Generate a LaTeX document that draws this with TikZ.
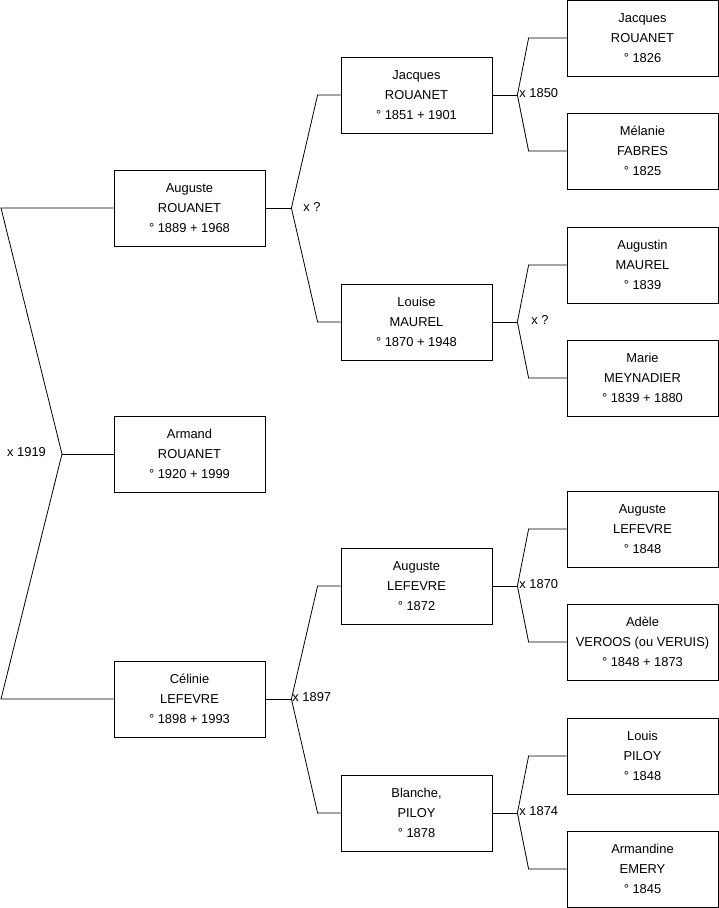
\documentclass[tikz,border=0pt]{standalone}
\usepackage{fontspec}
\setmainfont{Liberation Sans}
\usetikzlibrary{positioning, calc}
\tikzset{
  person/.style={draw, rectangle, minimum width=151pt, minimum height=76pt, inner sep=0pt,
    align=center, font=\fontsize{12.9}{20}\selectfont},
  union/.style={anchor=west, inner sep=0pt, font=\fontsize{12.9}{14}\selectfont}
}
\begin{document}
\begin{tikzpicture}[x=1pt, y=-1pt, line width=0.8pt]
    \useasboundingbox (0,0) rectangle (719,908);

    % child and parents
    \node (armand) [person] at (189.5,454) {Armand\\ROUANET\\° 1920 + 1999};
    \node (auguste) [person] at (189.5,208) {Auguste\\ROUANET\\° 1889 + 1968};
    \node (celinie) [person] at (189.5,699) {Célinie\\LEFEVRE\\° 1898 + 1993};

    % grandparents
    \node (jacques) [person] at (416.5,95) {Jacques\\ROUANET\\° 1851 + 1901};
    \node (louise) [person] at (416.5,322) {Louise\\MAUREL\\° 1870 + 1948};
    \node (augustel) [person] at (416.5,586) {Auguste\\LEFEVRE\\° 1872};
    \node (blanche) [person] at (416.5,813) {Blanche,\\PILOY\\° 1878};

    % great-grandparents
    \node (jacquesr) [person] at (642.5,38) {Jacques\\ROUANET\\° 1826};
    \node (melanie) [person] at (642.5,151) {Mélanie\\FABRES\\° 1825};
    \node (augustin) [person] at (642.5,265) {Augustin\\MAUREL\\° 1839};
    \node (marie) [person] at (642.5,378) {Marie\\MEYNADIER\\° 1839 + 1880};
    \node (augustelf) [person] at (642.5,529) {Auguste\\LEFEVRE\\° 1848};
    \node (adele) [person] at (642.5,642) {Adèle\\VEROOS (ou VERUIS)\\° 1848 + 1873};
    \node (louis) [person] at (642.5,756) {Louis\\PILOY\\° 1848};
    \node (armandine) [person] at (642.5,869) {Armandine\\EMERY\\° 1845};

    % junctions
    \coordinate (j1919) at (62,454);
    \coordinate (top1919) at (1,208);
    \coordinate (bot1919) at (1,699);
    \coordinate [right=26pt of auguste.east] (jaug);
    \coordinate [right=26pt of celinie.east] (jcel);
    \coordinate [right=25pt of jacques.east] (jjac);
    \coordinate [right=25pt of louise.east] (jlou);
    \coordinate [right=25pt of augustel.east] (jaul);
    \coordinate [right=25pt of blanche.east] (jbla);

    \draw (auguste.west) -- (top1919) -- (j1919) -- (bot1919) -- (celinie.west);
    \draw (armand.west) -- (j1919);

    \draw (auguste.east) -- (jaug);
    \draw (jacques.west) -- ++(-23,0) -- (jaug) -- ($(louise.west)+(-23,0)$) -- (louise.west);
    \draw (celinie.east) -- (jcel);
    \draw (augustel.west) -- ++(-23,0) -- (jcel) -- ($(blanche.west)+(-23,0)$) -- (blanche.west);

    \draw (jacques.east) -- (jjac);
    \draw (jacquesr.west) -- ++(-38,0) -- (jjac) -- ($(melanie.west)+(-38,0)$) -- (melanie.west);
    \draw (louise.east) -- (jlou);
    \draw (augustin.west) -- ++(-38,0) -- (jlou) -- ($(marie.west)+(-38,0)$) -- (marie.west);
    \draw (augustel.east) -- (jaul);
    \draw (augustelf.west) -- ++(-38,0) -- (jaul) -- ($(adele.west)+(-38,0)$) -- (adele.west);
    \draw (blanche.east) -- (jbla);
    \draw (louis.west) -- ++(-38,0) -- (jbla) -- ($(armandine.west)+(-38,0)$) -- (armandine.west);

    % marriages
    \node (x1919) [union, anchor=center] at (26.5,452) {x 1919};
    \node (xaug) [union] at (303,207) {x ?};
    \node (x1897) [union] at (292,697) {x 1897};
    \node (x1850) [union] at (519,93) {x 1850};
    \node (xlou) [union] at (531,320) {x ?};
    \node (x1870) [union] at (519,584) {x 1870};
    \node (x1874) [union] at (519,811) {x 1874};
\end{tikzpicture}
\end{document}
